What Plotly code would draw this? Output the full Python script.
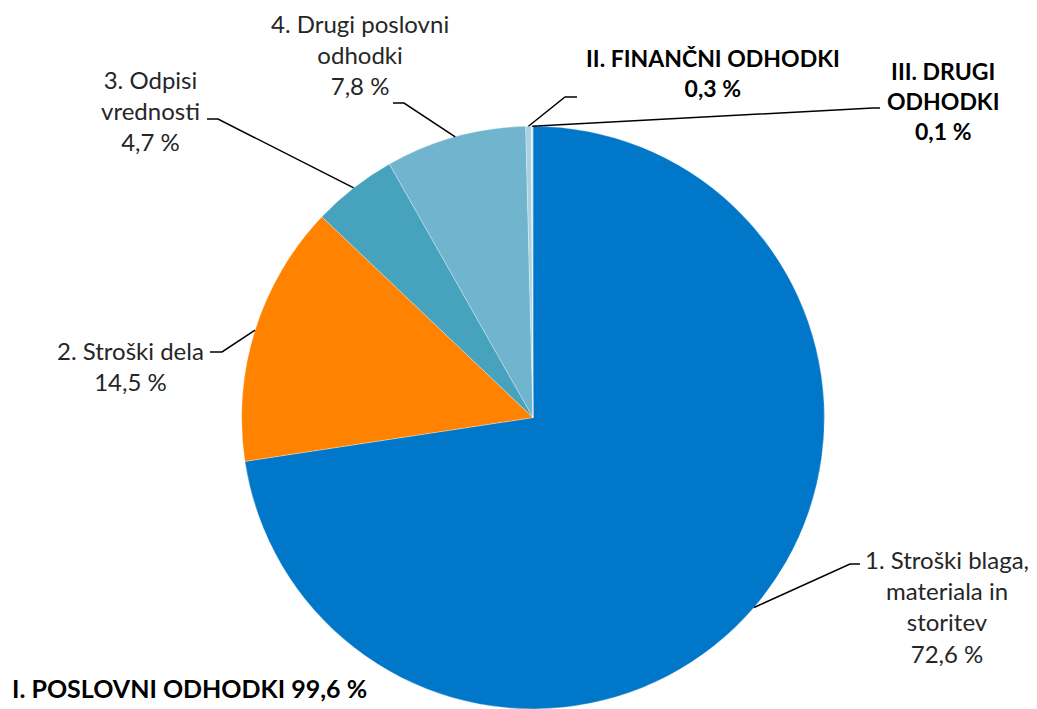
import math
import plotly.graph_objects as go

# ---- data ----
labels = ["1. Stroški blaga, materiala in storitev", "2. Stroški dela", "3. Odpisi vrednosti",
          "4. Drugi poslovni odhodki", "II. FINANČNI ODHODKI", "III. DRUGI ODHODKI"]
values = [72.6, 14.5, 4.7, 7.8, 0.3, 0.1]
label_text = ["1. Stroški blaga,<br>materiala in<br>storitev<br>72,6 %",
              "2. Stroški dela<br>14,5 %",
              "3. Odpisi<br>vrednosti<br>4,7 %",
              "4. Drugi poslovni<br>odhodki<br>7,8 %",
              "<b>II. FINANČNI ODHODKI<br>0,3 %</b>",
              "<b>III. DRUGI<br>ODHODKI<br>0,1 %</b>"]
total_label = "I. POSLOVNI ODHODKI 99,6 %"

colors = ["#0077C8", "#FF8200", "#47A3BD", "#70B5CD", "#A9D1E0", "#D2E8F0"]

W, H = 1037, 709
dom_x = [0.22, 0.808]
dom_y = [0.0, 0.822]

# label positions (pixels): text centre, elbow, line end
label_pos = [
    dict(tx=947, ty=606, ex=850, ey=564, hx=860, hy=564),
    dict(tx=130, ty=366, ex=222, ey=352, hx=210, hy=352),
    dict(tx=150, ty=111, ex=218, ey=119, hx=207, hy=119),
    dict(tx=360, ty=55, ex=404, ey=103, hx=393, hy=103),
    dict(tx=713, ty=73, ex=565, ey=97, hx=577, hy=97),
    dict(tx=943, ty=101, ex=873, ey=108, hx=880, hy=108),
]

fig = go.Figure(go.Pie(
    labels=labels, values=values, sort=False, direction="clockwise", rotation=0,
    marker=dict(colors=colors, line=dict(color="white", width=0.3)),
    textinfo="none", hoverinfo="label+percent", showlegend=False,
    domain=dict(x=dom_x, y=dom_y),
))

# pie geometry in pixels
cx = (dom_x[0] + dom_x[1]) / 2 * W
cy = H - (dom_y[0] + dom_y[1]) / 2 * H
r = min((dom_x[1] - dom_x[0]) * W, (dom_y[1] - dom_y[0]) * H) / 2

def px(x):
    return x / W

def py(y):
    return 1 - y / H

tot = sum(values)
cum = 0
shapes = []
annotations = []
for v, txt, p in zip(values, label_text, label_pos):
    mid = (cum + v / 2) / tot * 2 * math.pi
    cum += v
    ax_ = cx + r * math.sin(mid)
    ay_ = cy - r * math.cos(mid)
    path = f"M {px(ax_)},{py(ay_)} L {px(p['ex'])},{py(p['ey'])} L {px(p['hx'])},{py(p['hy'])}"
    shapes.append(dict(type="path", xref="paper", yref="paper", path=path,
                       line=dict(color="black", width=1.5)))
    bold = txt.startswith("<b>")
    annotations.append(dict(x=px(p["tx"]), y=py(p["ty"]), xref="paper", yref="paper",
                            text=txt, showarrow=False, xanchor="center", yanchor="middle",
                            align="center",
                            font=dict(family="Lato", size=23 if bold else 24,
                                      color="#000000" if bold else "#262626")))

annotations.append(dict(x=px(10), y=py(688), xref="paper", yref="paper",
                        text=f"<b>{total_label}</b>", showarrow=False,
                        xanchor="left", yanchor="middle",
                        font=dict(family="Lato", size=25, color="#000000")))

fig.update_layout(width=W, height=H, margin=dict(l=0, r=0, t=0, b=0),
                  paper_bgcolor="white", plot_bgcolor="white",
                  shapes=shapes, annotations=annotations)

fig.write_html("out.html", config={"displayModeBar": False},
               post_script="document.body.style.margin='0';document.body.style.overflow='hidden';")
